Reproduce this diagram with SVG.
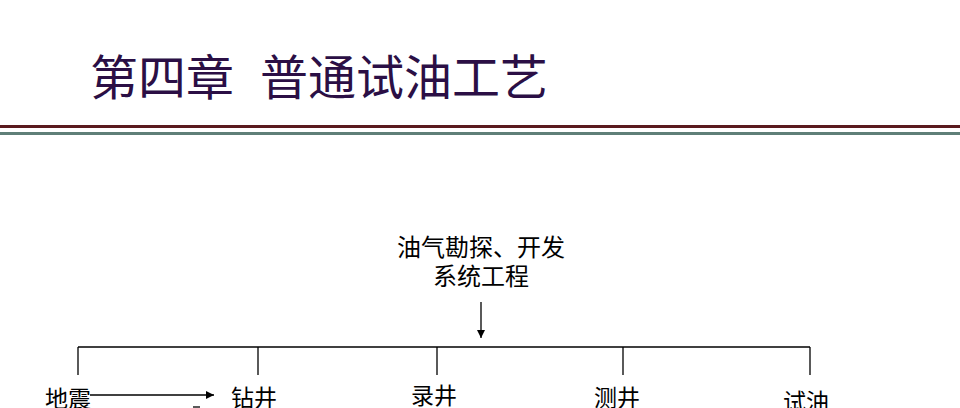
<svg xmlns="http://www.w3.org/2000/svg" width="960" height="408" viewBox="0 0 960 408">
<defs>
<marker id="ah" viewBox="0 0 10 10" refX="10" refY="5" markerWidth="8" markerHeight="8" markerUnits="userSpaceOnUse" orient="auto">
<path d="M0,0 L10,5 L0,10 z" fill="#000"/>
</marker>
<style>
.t{font-family:"Noto Sans CJK SC","Noto Sans CJK TC",sans-serif;fill:#000;}
.title{font-family:"Noto Sans CJK SC","Noto Sans CJK TC",sans-serif;fill:#2b0f45;font-size:48px;}
.lbl{font-size:23px;text-anchor:middle;}
.top{font-size:24px;text-anchor:middle;}
.ln{stroke:#000;stroke-width:1.3;fill:none;}
</style>
</defs>
<rect width="960" height="408" fill="#fff"/>
<g id="title">
<text class="title" x="90" y="95">第四章</text>
<text class="title" x="260" y="95">普通试油工艺</text>
</g>
<g id="rules">
<rect x="0" y="125" width="960" height="3" fill="#5a1a1e"/>
<rect x="0" y="132" width="960" height="3" fill="#5f7f78"/>
</g>
<g id="node-root">
<text class="t top" x="481" y="256">油气勘探、开发</text>
<text class="t top" x="481" y="285">系统工程</text>
</g>
<g id="node-dizhen"><text class="t lbl" x="68" y="407">地震</text></g>
<g id="node-zuanjing"><text class="t lbl" x="254" y="406">钻井</text></g>
<g id="node-lujing"><text class="t lbl" x="434" y="404">录井</text></g>
<g id="node-cejing"><text class="t lbl" x="617" y="406">测井</text></g>
<g id="node-shiyou"><text class="t lbl" x="806" y="410">试油</text></g>
<g id="connectors">
<line class="ln" x1="481" y1="302" x2="481" y2="338" marker-end="url(#ah)"/>
<line class="ln" x1="78" y1="347" x2="810" y2="347"/>
<line class="ln" x1="78" y1="347" x2="78" y2="375"/>
<line class="ln" x1="258" y1="347" x2="258" y2="375"/>
<line class="ln" x1="437" y1="347" x2="437" y2="375"/>
<line class="ln" x1="623" y1="347" x2="623" y2="375"/>
<line class="ln" x1="810" y1="347" x2="810" y2="375"/>
<line class="ln" x1="90" y1="395" x2="214" y2="395" marker-end="url(#ah)"/>
<line class="ln" x1="193" y1="407" x2="200" y2="407"/>
</g>
</svg>
